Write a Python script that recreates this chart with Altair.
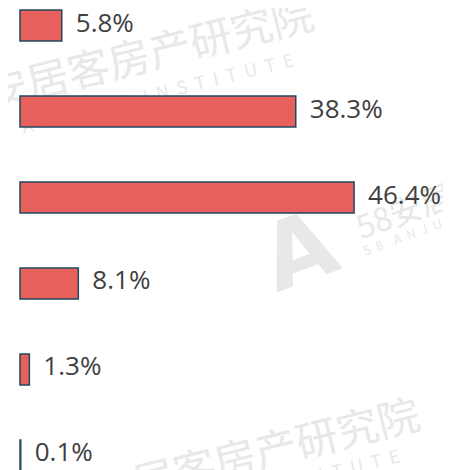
import altair as alt
import pandas as pd

categories = ["A", "B", "C", "D", "E", "F"]
values = [5.8, 38.3, 46.4, 8.1, 1.3, 0.1]
labels = ["5.8%", "38.3%", "46.4%", "8.1%", "1.3%", "0.1%"]

df = pd.DataFrame({"cat": categories, "value": values, "label": labels})

FILL = "#E8605C"
STROKE = "#1F4A5E"
WM = "#E8E8E8"

W = 423
H = 461

x_enc = alt.X("value:Q", scale=alt.Scale(domain=[0, W / 7.2], nice=False, zero=True), axis=None)
y_enc = alt.Y("cat:N", sort=categories,
              scale=alt.Scale(paddingInner=0.6395, paddingOuter=0),
              axis=None)

base = alt.Chart(df)

bars = base.mark_bar(fill=FILL, stroke=STROKE, strokeWidth=1.5, cornerRadius=0).encode(
    x=x_enc, y=y_enc
)

text = base.mark_text(align="left", baseline="middle", dx=14, dy=-2,
                      font="Open Sans", fontSize=26, color="#404040").encode(
    x=x_enc, y=y_enc, text="label:N"
)

one = pd.DataFrame({"k": [0]})


def wm_text(t, px, py, fs, angle=346, align="center", weight="normal", font="Noto Sans CJK SC"):
    return alt.Chart(one).mark_text(
        align=align, baseline="middle", angle=angle, font=font,
        fontWeight=weight, color=WM, fontSize=fs, text=t
    ).encode(x=alt.value(px), y=alt.value(py))


NB = "\u00a0"
wm_cn = "安居客房产研究院"
wm_en = (NB * 2).join("ANJUKE") + NB * 4 + (NB * 2).join("INSTITUTE")
wm_58 = (NB * 2).join("58") + NB * 4 + (NB * 2).join("ANJUKE")

watermarks = alt.layer(
    wm_text(wm_cn, 130, 46, 42),
    wm_text(wm_en, 138, 85, 18),
    wm_text(wm_cn, 236, 446, 42),
    wm_text(wm_en, 244, 481, 18),
    wm_text("A", 280, 244, 92, angle=340, weight="bold", font="DejaVu Sans"),
    wm_text("58安居客", 338, 220, 32, angle=340, align="left"),
    wm_text(wm_58, 344, 242, 13, angle=340, align="left"),
)

data_layer = alt.layer(bars, text)

chart = alt.layer(watermarks, data_layer).properties(
    width=W, height=H,
    autosize=alt.AutoSizeParams(type="none"),
    padding={"left": 12, "top": 2, "right": 0, "bottom": 0},
    background="white",
).configure_view(strokeWidth=0, stroke="transparent")

chart.save("out.html", embed_options={"renderer": "svg", "actions": False})
